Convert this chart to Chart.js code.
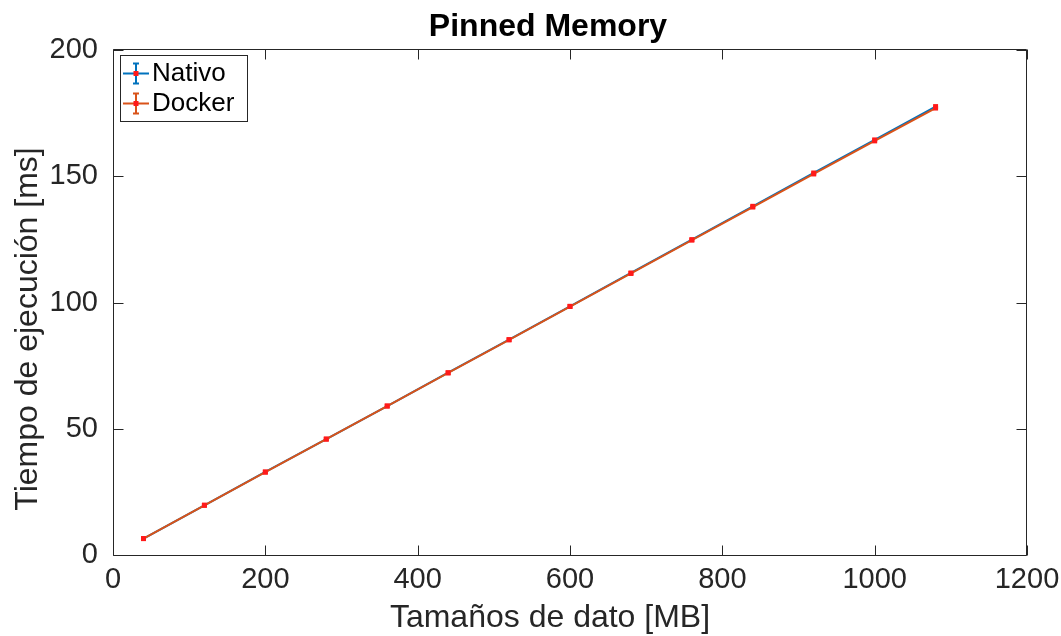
<!DOCTYPE html>
<html>
<head>
<meta charset="utf-8">
<script src="https://cdn.jsdelivr.net/npm/chart.js@4.4.1/dist/chart.umd.min.js"></script>
<style>
  html, body { margin: 0; padding: 0; background: #ffffff; }
  #wrap { width: 1061px; height: 636px; position: relative; }
</style>
</head>
<body>
<div id="wrap"><canvas id="c" width="1061" height="636"></canvas></div>
<script>
// Transfer sizes (MB) and measured execution times (ms)
const sizesMB   = [40, 120, 200, 280, 360, 440, 520, 600, 680, 760, 840, 920, 1000, 1080];
const nativoMs  = [6.5, 19.7, 32.9, 45.9, 59.0, 72.2, 85.3, 98.5, 111.7, 124.9, 138.1, 151.3, 164.4, 177.6];
const dockerMs  = [6.5, 19.7, 32.8, 45.9, 59.0, 72.1, 85.2, 98.4, 111.5, 124.7, 137.8, 150.9, 164.0, 177.0];

const xTicks = [0, 200, 400, 600, 800, 1000, 1200];
const yTicks = [0, 50, 100, 150, 200];

const seriesNames = ['Nativo', 'Docker'];
const titleText = 'Pinned Memory';
const xTitle = 'Tamaños de dato [MB]';
const yTitle = 'Tiempo de ejecución [ms]';

const AXIS_COLOR = '#262626';
const FONT = '"Liberation Sans", Arial, Helvetica, sans-serif';
const COLORS = ['#0072BD', '#D95319'];
const MARKER = '#ff1a1a';

// Box around the axes with inward ticks on all four sides
const axesBox = {
  id: 'axesBox',
  afterDatasetsDraw(chart) {
    const { ctx, scales: { x, y } } = chart;
    const L = Math.round(x.getPixelForValue(0)) + 0.5;
    const R = Math.round(x.getPixelForValue(1200)) - 0.5;
    const T = Math.round(y.getPixelForValue(200)) - 0.5;
    const B = Math.round(y.getPixelForValue(0)) + 0.5;
    const len = 10;
    ctx.save();
    ctx.strokeStyle = AXIS_COLOR;
    ctx.lineWidth = 1;
    ctx.beginPath();
    ctx.rect(L, T, R - L, B - T);
    xTicks.forEach(v => {
      const px = Math.round(x.getPixelForValue(v)) + 0.5;
      ctx.moveTo(px, B); ctx.lineTo(px, B - len);
      ctx.moveTo(px, T); ctx.lineTo(px, T + len);
    });
    yTicks.forEach(v => {
      const py = Math.round(y.getPixelForValue(v)) + 0.5;
      ctx.moveTo(L, py); ctx.lineTo(L + len, py);
      ctx.moveTo(R, py); ctx.lineTo(R - len, py);
    });
    ctx.stroke();
    ctx.restore();
  }
};

// Title, axis titles and the boxed legend in the upper-left corner
const annotations = {
  id: 'annotations',
  afterDraw(chart) {
    const { ctx } = chart;
    ctx.save();
    ctx.fillStyle = '#000000';
    ctx.font = 'bold 32px ' + FONT;
    ctx.textAlign = 'center';
    ctx.textBaseline = 'alphabetic';
    ctx.fillText(titleText, 548, 36);

    ctx.fillStyle = AXIS_COLOR;
    ctx.font = '32px ' + FONT;
    ctx.fillText(xTitle, 550, 627);

    ctx.save();
    ctx.translate(37, 329);
    ctx.rotate(-Math.PI / 2);
    ctx.fillText(yTitle, 0, 0);
    ctx.restore();

    // legend
    const bx = 120.5, by = 55.5, bw = 127, bh = 66;
    ctx.fillStyle = '#ffffff';
    ctx.fillRect(bx, by, bw, bh);
    ctx.strokeStyle = AXIS_COLOR;
    ctx.lineWidth = 1;
    ctx.strokeRect(bx, by, bw, bh);

    ctx.font = '26px ' + FONT;
    ctx.textAlign = 'left';
    ctx.textBaseline = 'middle';
    chart.data.datasets.forEach((ds, i) => {
      const cy = 73.5 + i * 30;
      const cx = 136;
      ctx.strokeStyle = ds.borderColor;
      ctx.lineWidth = 2;
      ctx.beginPath();
      ctx.moveTo(123, cy); ctx.lineTo(149, cy);
      ctx.moveTo(cx, cy - 10); ctx.lineTo(cx, cy + 10);
      ctx.moveTo(cx - 3, cy - 10); ctx.lineTo(cx + 3, cy - 10);
      ctx.moveTo(cx - 3, cy + 10); ctx.lineTo(cx + 3, cy + 10);
      ctx.stroke();
      ctx.fillStyle = MARKER;
      ctx.fillRect(cx - 2.5, cy - 2.5, 5, 5);
      ctx.fillStyle = '#000000';
      ctx.fillText(ds.label, 152, cy + 0.5);
    });
    ctx.restore();
  }
};

const toPoints = (xs, ys) => xs.map((v, i) => ({ x: v, y: ys[i] }));
const plainLabel = v => String(v);

const seriesStyle = i => ({
  borderColor: COLORS[i],
  borderWidth: 2,
  pointStyle: 'rect',
  pointRadius: 3.5,
  pointBackgroundColor: MARKER,
  pointBorderColor: MARKER,
  pointBorderWidth: 0,
  tension: 0
});

new Chart(document.getElementById('c'), {
  type: 'line',
  data: {
    datasets: [
      Object.assign({ label: seriesNames[0], data: toPoints(sizesMB, nativoMs), order: 1 }, seriesStyle(0)),
      Object.assign({ label: seriesNames[1], data: toPoints(sizesMB, dockerMs), order: 0 }, seriesStyle(1))
    ]
  },
  options: {
    responsive: false,
    animation: false,
    devicePixelRatio: 1,
    layout: { padding: { left: 0, top: 50, right: 34, bottom: 0 } },
    plugins: {
      legend: { display: false },
      title: { display: false },
      tooltip: { enabled: false }
    },
    scales: {
      x: {
        type: 'linear',
        min: 0,
        max: 1200,
        afterBuildTicks: s => { s.ticks = xTicks.map(v => ({ value: v })); },
        afterFit: s => { s.height = 81; s.paddingLeft = 0; s.paddingRight = 0; },
        grid: { display: false, drawTicks: false, tickLength: 0 },
        border: { display: false },
        ticks: {
          color: AXIS_COLOR,
          font: { family: FONT, size: 29 },
          padding: 8,
          maxRotation: 0,
          autoSkip: false,
          callback: plainLabel
        }
      },
      y: {
        type: 'linear',
        min: 0,
        max: 200,
        afterBuildTicks: s => { s.ticks = yTicks.map(v => ({ value: v })); },
        afterFit: s => { s.width = 113; s.paddingTop = 0; s.paddingBottom = 0; },
        grid: { display: false, drawTicks: false, tickLength: 0 },
        border: { display: false },
        ticks: {
          color: AXIS_COLOR,
          font: { family: FONT, size: 29 },
          padding: 15,
          autoSkip: false,
          callback: plainLabel
        }
      }
    }
  },
  plugins: [axesBox, annotations]
});
</script>
</body>
</html>
